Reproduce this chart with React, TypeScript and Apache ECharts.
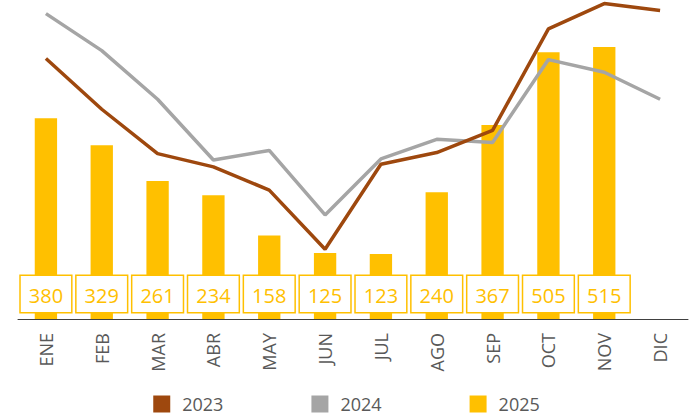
import React, { useEffect, useRef } from "react";
import * as echarts from "echarts";

const months = ["ENE", "FEB", "MAR", "ABR", "MAY", "JUN", "JUL", "AGO", "SEP", "OCT", "NOV", "DIC"];
const values2023 = [493, 397, 313, 288, 244, 132, 293, 315, 357, 549, 597, 584];
const values2024 = [578, 508, 416, 301, 319, 197, 303, 340, 334, 491, 467, 416];
const values2025: (number | null)[] = [380, 329, 261, 234, 158, 125, 123, 240, 367, 505, 515, null];

const FONT = "'Open Sans', sans-serif";

export default function App() {
  const ref = useRef<HTMLDivElement>(null);
  useEffect(() => {
    if (!ref.current) return;
    const chart = echarts.init(ref.current, undefined, { renderer: "svg" });
    chart.setOption({
      animation: false,
      textStyle: { fontFamily: FONT },
      grid: { left: 18, right: 5, top: 2, bottom: 100, containLabel: false },
      legend: {
        left: "center",
        top: 395,
        padding: 0,
        icon: "rect",
        itemWidth: 17,
        itemHeight: 17,
        itemGap: 88,
        textStyle: { color: "#595959", fontSize: 18, fontFamily: FONT, padding: [0, 0, 0, 7] },
        data: ["2023", "2024", "2025"],
      },
      xAxis: {
        type: "category",
        data: months,
        boundaryGap: true,
        axisLine: { lineStyle: { color: "#404040", width: 1 } },
        axisTick: { show: false },
        axisLabel: { rotate: 90, margin: 14, color: "#595959", fontSize: 18, fontFamily: FONT },
      },
      yAxis: {
        type: "value",
        min: 0,
        max: 600,
        show: false,
        splitLine: { show: false },
      },
      series: [
        {
          name: "2025",
          type: "bar",
          data: values2025,
          barWidth: "40%",
          itemStyle: { color: "#FFC000" },
          z: 1,
          label: {
            show: true,
            position: "insideBottom",
            distance: 7,
            color: "#FFC000",
            fontSize: 20,
            fontFamily: FONT,
            backgroundColor: "#FFFFFF",
            borderColor: "#FFC000",
            borderWidth: 1.5,
            padding: [7, 8, 5, 8],
            lineHeight: 24,
          },
        },
        {
          name: "2023",
          type: "line",
          data: values2023,
          symbol: "none",
          lineStyle: { color: "#9E480E", width: 3.5 },
          itemStyle: { color: "#9E480E" },
          z: 3,
        },
        {
          name: "2024",
          type: "line",
          data: values2024,
          symbol: "none",
          lineStyle: { color: "#A5A5A5", width: 3.5 },
          itemStyle: { color: "#A5A5A5" },
          z: 2,
        },
      ],
    });
    return () => chart.dispose();
  }, []);
  return (
    <div
      ref={ref}
      style={{ position: "fixed", left: 0, top: 0, width: 693, height: 419, background: "#fff" }}
    />
  );
}
